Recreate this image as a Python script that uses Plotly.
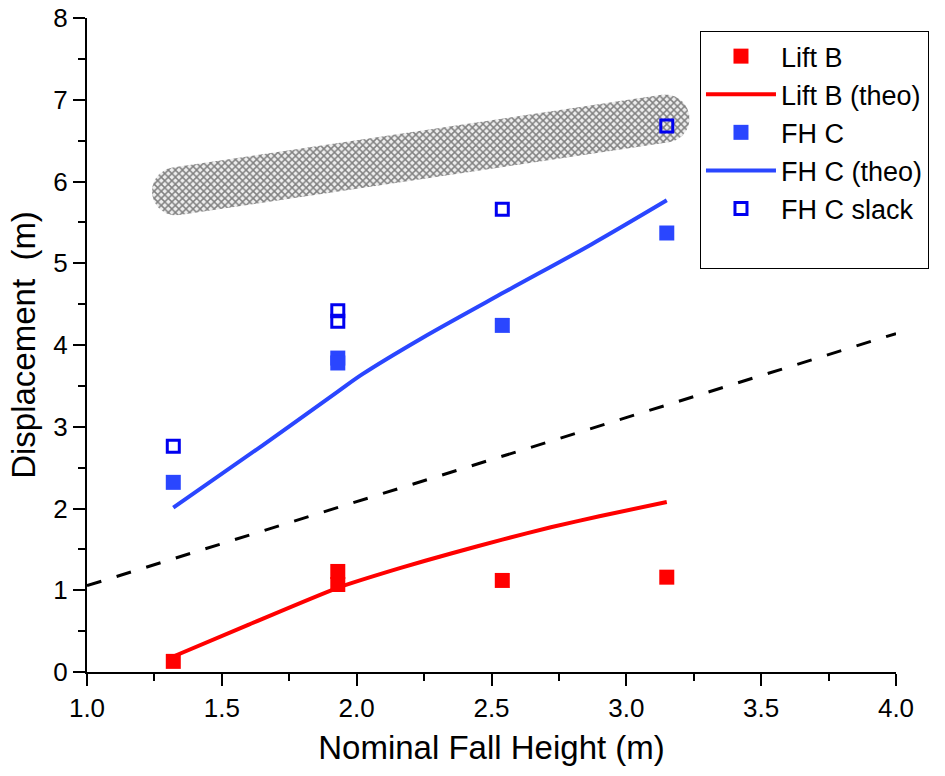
import numpy as np
import plotly.graph_objects as go

# ---------------- data ----------------
lift_b_x = [1.32, 1.93, 1.93, 2.54, 3.15]
lift_b_y = [0.13, 1.23, 1.07, 1.12, 1.16]

lift_b_theo_x = [1.32, 1.60, 1.93, 2.16, 2.35, 2.54, 2.72, 2.90, 3.15]
lift_b_theo_y = [0.19, 0.58, 1.03, 1.27, 1.45, 1.62, 1.77, 1.905, 2.08]

fh_c_x = [1.32, 1.93, 1.93, 2.54, 3.15]
fh_c_y = [2.32, 3.84, 3.78, 4.24, 5.37]

fh_c_theo_x = [1.32, 1.65, 1.93, 2.02, 2.24, 2.55, 2.87, 3.15]
fh_c_theo_y = [2.01, 2.77, 3.43, 3.64, 4.08, 4.65, 5.23, 5.77]

fh_c_slack_x = [1.32, 1.93, 1.93, 2.54, 3.15]
fh_c_slack_y = [2.76, 4.42, 4.29, 5.66, 6.68]

dashed_x = [1.0, 4.0]
dashed_y = [1.056, 4.14]

# highlighted band (rounded band around the slack trend): end centres
band_x = [1.33, 3.145]
band_y = [5.88, 6.77]
band_halfwidth_px = 24

x_ticks = [1.0, 1.5, 2.0, 2.5, 3.0, 3.5, 4.0]
y_ticks = [0, 1, 2, 3, 4, 5, 6, 7, 8]

# ---------------- layout geometry ----------------
W, H = 945, 776
ML, MR, MT, MB = 87, 49, 18, 104
XR = [1.0, 4.0]
YR = [0.0, 8.0]
sx = (W - ML - MR) / (XR[1] - XR[0])
sy = (H - MT - MB) / (YR[1] - YR[0])

# build stadium outline in pixel space, convert back to data space
p0 = np.array([band_x[0] * sx, band_y[0] * sy])
p1 = np.array([band_x[1] * sx, band_y[1] * sy])
d = p1 - p0
ang = np.arctan2(d[1], d[0])
t1 = np.linspace(ang - np.pi / 2, ang + np.pi / 2, 40)
t2 = np.linspace(ang + np.pi / 2, ang + 3 * np.pi / 2, 40)
arc1 = np.c_[p1[0] + band_halfwidth_px * np.cos(t1), p1[1] + band_halfwidth_px * np.sin(t1)]
arc2 = np.c_[p0[0] + band_halfwidth_px * np.cos(t2), p0[1] + band_halfwidth_px * np.sin(t2)]
outline = np.vstack([arc1, arc2, arc1[:1]])
blob_x = outline[:, 0] / sx
blob_y = outline[:, 1] / sy

RED = "#FF0000"
BLUE = "#2A46FF"
BLUE_OPEN = "#0000F0"
FONT = "Arial, Liberation Sans, sans-serif"

fig = go.Figure()

fig.add_trace(go.Scatter(
    x=blob_x, y=blob_y, mode="lines", fill="toself",
    line=dict(width=0, color="rgba(0,0,0,0)"),
    fillcolor="#b8b8b8",
    fillpattern=dict(shape="x", size=5, solidity=0.5, fgcolor="#111111", bgcolor="#eeeeee"),
    showlegend=False, hoverinfo="skip"))

fig.add_trace(go.Scatter(
    x=dashed_x, y=dashed_y, mode="lines",
    line=dict(color="black", width=3, dash="15px,16px"),
    showlegend=False))

fig.add_trace(go.Scatter(
    x=lift_b_theo_x, y=lift_b_theo_y, mode="lines", name="Lift B (theo)",
    line=dict(color=RED, width=4, shape="spline", smoothing=0.6), legendrank=2))

fig.add_trace(go.Scatter(
    x=fh_c_theo_x, y=fh_c_theo_y, mode="lines", name="FH C (theo)",
    line=dict(color=BLUE, width=4, shape="spline", smoothing=0.9), legendrank=4))

fig.add_trace(go.Scatter(
    x=lift_b_x, y=lift_b_y, mode="markers", name="Lift B",
    marker=dict(symbol="square", size=15, color=RED, line=dict(width=0)), legendrank=1))

fig.add_trace(go.Scatter(
    x=fh_c_x, y=fh_c_y, mode="markers", name="FH C",
    marker=dict(symbol="square", size=15, color=BLUE, line=dict(width=0)), legendrank=3))

# last entry gets an empty second line: the reference legend box has blank space at the bottom
fig.add_trace(go.Scatter(
    x=fh_c_slack_x, y=fh_c_slack_y, mode="markers", name="FH C slack<br>\u00a0",
    marker=dict(symbol="square-open", size=12, color=BLUE_OPEN, line=dict(width=3, color=BLUE_OPEN)),
    legendrank=5))

axis_common = dict(showline=True, linecolor="black", linewidth=2, showgrid=False,
                   zeroline=False, tickcolor="black", tickwidth=2, automargin=False,
                   ticklabeloverflow="allow",
                   tickfont=dict(family=FONT, size=26, color="black"))

fig.update_layout(
    width=W, height=H,
    margin=dict(l=ML, r=MR, t=MT, b=MB, autoexpand=False),
    plot_bgcolor="white", paper_bgcolor="white",
    font=dict(family=FONT, color="black"),
    xaxis=dict(range=XR, tickvals=x_ticks, ticktext=[f"{v:.1f}" for v in x_ticks],
               ticks="outside", ticklen=12,
               minor=dict(ticks="outside", ticklen=7, dtick=0.25, tickcolor="black", tickwidth=2),
               title=dict(text="Nominal Fall Height (m)", font=dict(family=FONT, size=33), standoff=14),
               **axis_common),
    yaxis=dict(range=YR, tickvals=y_ticks, ticktext=[str(v) for v in y_ticks],
               ticks="outside", ticklen=12,
               minor=dict(ticks="outside", ticklen=7, dtick=0.5, tickcolor="black", tickwidth=2),
               title=dict(text="Displacement\u00a0 (m)", font=dict(family=FONT, size=33), standoff=8),
               **axis_common),
    xaxis2=dict(range=XR, overlaying="x", side="top", anchor="y", tickvals=x_ticks,
                ticks="inside", ticklen=12, showticklabels=False,
                minor=dict(ticks="inside", ticklen=7, dtick=0.25, tickcolor="black", tickwidth=2),
                **axis_common),
    yaxis2=dict(range=YR, overlaying="y", side="right", anchor="x", tickvals=y_ticks,
                ticks="inside", ticklen=12, showticklabels=False,
                minor=dict(ticks="inside", ticklen=7, dtick=0.5, tickcolor="black", tickwidth=2),
                **axis_common),
    legend=dict(x=0.7577, y=0.98, xanchor="left", yanchor="top", valign="top",
                bgcolor="white", bordercolor="black", borderwidth=1,
                font=dict(family=FONT, size=27, color="black"),
                itemwidth=70, tracegroupgap=0),
    showlegend=True,
)

# remove the browser's default 8px body margin so the figure sits at the page origin
fig.write_html("out.html", config={"displayModeBar": False},
               post_script="document.body.style.margin='0';")
